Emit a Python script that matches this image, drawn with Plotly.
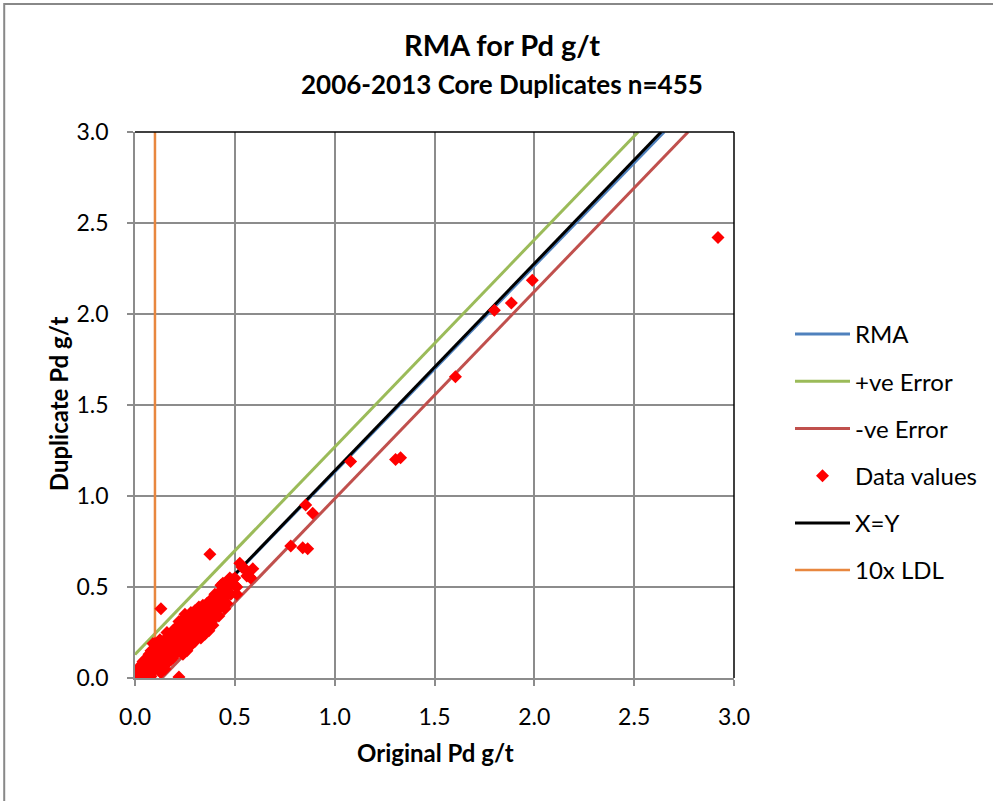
import plotly.graph_objects as go

# ---------------- data ----------------
data_x = [
    0.00, 0.01, 0.01, 0.02, 0.02, 0.03, 0.03, 0.04, 0.04, 0.05, 0.05, 0.06, 0.06, 0.00, 0.01, 0.03, 0.05,
    0.07, 0.07, 0.08, 0.08, 0.09, 0.09, 0.10, 0.10, 0.11, 0.11, 0.12, 0.12, 0.07, 0.09, 0.10, 0.12, 0.08, 0.10, 0.12, 0.09, 0.11, 0.06, 0.13,
    0.09, 0.125, 0.05, 0.035, 0.09, 0.125, 0.07, 0.04, 0.11, 0.15, 0.14, 0.06, 0.08, 0.02,
    0.13, 0.13, 0.14, 0.14, 0.15, 0.15, 0.15, 0.16, 0.16, 0.16, 0.17, 0.17, 0.17, 0.18, 0.18, 0.18, 0.19, 0.19, 0.19, 0.20, 0.20, 0.20, 0.14, 0.16, 0.18, 0.20, 0.17, 0.19,
    0.21, 0.21, 0.21, 0.22, 0.22, 0.22, 0.22, 0.23, 0.23, 0.23, 0.23, 0.24, 0.24, 0.24, 0.24, 0.25, 0.25, 0.25, 0.25, 0.26, 0.26, 0.26, 0.26, 0.27, 0.27, 0.27, 0.28, 0.28, 0.28, 0.28, 0.29, 0.29, 0.29, 0.29, 0.30, 0.30, 0.30, 0.30, 0.24, 0.26, 0.28, 0.30, 0.25,
    0.31, 0.31, 0.31, 0.32, 0.32, 0.32, 0.32, 0.33, 0.33, 0.33, 0.34, 0.34, 0.34, 0.34, 0.35, 0.35, 0.35, 0.36, 0.36, 0.36, 0.37, 0.37, 0.37, 0.38, 0.38, 0.38, 0.39, 0.39, 0.39, 0.40, 0.40, 0.40, 0.33, 0.35, 0.37, 0.39,
    0.41, 0.41, 0.42, 0.42, 0.43, 0.43, 0.44, 0.44, 0.44, 0.45, 0.46, 0.46, 0.47, 0.48, 0.48, 0.49, 0.50, 0.50, 0.42, 0.45,
    0.435, 0.485, 0.475, 0.525, 0.535, 0.565, 0.575, 0.55, 0.59, 0.51, 0.58, 0.56, 0.51,
    0.13, 0.375, 0.22, 0.78, 0.84, 0.865, 0.855, 0.89, 1.08, 1.305, 1.33, 1.605, 1.80, 1.885, 1.99, 2.92,
]
data_y = [
    0.00, 0.01, 0.02, 0.00, 0.03, 0.01, 0.04, 0.02, 0.05, 0.03, 0.07, 0.04, 0.08, 0.02, 0.00, 0.00, 0.01,
    0.05, 0.10, 0.06, 0.12, 0.07, 0.11, 0.08, 0.14, 0.09, 0.16, 0.10, 0.13, 0.02, 0.04, 0.05, 0.06, 0.15, 0.19, 0.20, 0.09, 0.12, 0.06, 0.03,
    0.19, 0.21, 0.10, 0.07, 0.045, 0.035, 0.13, 0.09, 0.17, 0.05, 0.20, 0.11, 0.01, 0.06,
    0.12, 0.16, 0.10, 0.18, 0.11, 0.14, 0.21, 0.13, 0.17, 0.25, 0.12, 0.19, 0.22, 0.14, 0.18, 0.24, 0.15, 0.20, 0.26, 0.13, 0.17, 0.22, 0.07, 0.08, 0.10, 0.27, 0.15, 0.11,
    0.16, 0.20, 0.28, 0.15, 0.19, 0.24, 0.31, 0.14, 0.18, 0.22, 0.27, 0.17, 0.21, 0.25, 0.32, 0.16, 0.20, 0.24, 0.29, 0.19, 0.23, 0.27, 0.33, 0.20, 0.25, 0.30, 0.22, 0.26, 0.31, 0.36, 0.21, 0.24, 0.28, 0.34, 0.23, 0.27, 0.32, 0.37, 0.13, 0.15, 0.18, 0.20, 0.35,
    0.25, 0.29, 0.35, 0.24, 0.28, 0.33, 0.39, 0.26, 0.30, 0.36, 0.25, 0.29, 0.34, 0.40, 0.27, 0.31, 0.37, 0.30, 0.34, 0.41, 0.29, 0.33, 0.38, 0.31, 0.36, 0.43, 0.33, 0.38, 0.44, 0.35, 0.40, 0.46, 0.22, 0.24, 0.26, 0.29,
    0.37, 0.43, 0.39, 0.47, 0.42, 0.51, 0.40, 0.45, 0.52, 0.44, 0.48, 0.41, 0.50, 0.46, 0.53, 0.54, 0.51, 0.55, 0.34, 0.38,
    0.51, 0.52, 0.55, 0.63, 0.61, 0.58, 0.555, 0.60, 0.60, 0.46, 0.55, 0.56, 0.50,
    0.38, 0.68, 0.005, 0.725, 0.715, 0.71, 0.95, 0.905, 1.19, 1.20, 1.21, 1.655, 2.02, 2.06, 2.185, 2.42,
]

rma_x = [0.0, 2.65]
rma_y = [0.0, 3.0]
pos_err_x = [0.0, 2.52]
pos_err_y = [0.13, 3.0]
neg_err_x = [0.135, 2.77]
neg_err_y = [0.0, 3.0]
xy_x = [0.0, 2.635]
xy_y = [0.0, 3.0]
ldl_x = [0.1, 0.1]
ldl_y = [0.0, 3.0]

x_ticks = [0.0, 0.5, 1.0, 1.5, 2.0, 2.5, 3.0]
y_ticks = [0.0, 0.5, 1.0, 1.5, 2.0, 2.5, 3.0]
tick_text = ["0.0", "0.5", "1.0", "1.5", "2.0", "2.5", "3.0"]

FONT = "Lato"
GRID = "#8c8c8c"

fig = go.Figure()

def line_trace(x, y, name, color, width, rank):
    return go.Scatter(x=x, y=y, mode="lines", name=name, legendgroup=name,
                      legendrank=rank,
                      line=dict(color=color, width=width), cliponaxis=True)

fig.add_trace(line_trace(rma_x, rma_y, "RMA", "#4F81BD", 3, 1))
fig.add_trace(line_trace(pos_err_x, pos_err_y, "+ve Error", "#9BBB59", 3, 2))
fig.add_trace(line_trace(neg_err_x, neg_err_y, "-ve Error", "#C0504D", 3, 3))
fig.add_trace(line_trace(xy_x, xy_y, "X=Y", "#000000", 3, 5))
fig.add_trace(line_trace(ldl_x, ldl_y, "10x LDL", "#E8873F", 2.5, 6))
fig.add_trace(go.Scatter(x=data_x, y=data_y, mode="markers", name="Data values",
                         legendgroup="Data values", legendrank=4,
                         marker=dict(symbol="diamond", color="#FF0000", size=10,
                                     line=dict(width=0))))

L, R, T, B = 135, 258, 132, 123
W, H = 993, 801
pw, ph = W - L - R, H - T - B

def px(xp):
    return (xp - L) / pw

def py(yp):
    return (H - B - yp) / ph

fig.update_layout(
    width=W, height=H,
    margin=dict(l=L, r=R, t=T, b=B, pad=0),
    paper_bgcolor="white", plot_bgcolor="white",
    font=dict(family=FONT, color="#000000", size=22),
    showlegend=True,
    legend=dict(x=px(790), y=py(312), xanchor="left", yanchor="top",
                font=dict(family=FONT, size=24, color="#000000"),
                traceorder="grouped", tracegroupgap=13,
                itemwidth=55, bgcolor="rgba(0,0,0,0)"),
    xaxis=dict(range=[0, 3.0], tickvals=x_ticks, ticktext=tick_text,
               showgrid=True, gridcolor=GRID, gridwidth=1.5,
               showline=True, linecolor=GRID, linewidth=1.5,
               ticks="outside", ticklen=6, tickcolor=GRID, tickwidth=1.5,
               ticklabelstandoff=12, zeroline=False,
               tickfont=dict(family=FONT, size=23)),
    yaxis=dict(range=[0, 3.0], tickvals=y_ticks, ticktext=tick_text,
               showgrid=True, gridcolor=GRID, gridwidth=1.5,
               showline=True, linecolor=GRID, linewidth=1.5,
               ticks="outside", ticklen=6, tickcolor=GRID, tickwidth=1.5,
               ticklabelstandoff=14, zeroline=False,
               tickfont=dict(family=FONT, size=23)),
    shapes=[
        dict(type="line", xref="paper", yref="paper", x0=0, x1=1, y0=1, y1=1,
             line=dict(color="#000000", width=1.5)),
        dict(type="line", xref="paper", yref="paper", x0=1, x1=1, y0=0, y1=1,
             line=dict(color="#000000", width=1.5)),
        dict(type="rect", xref="paper", yref="paper",
             x0=px(4), x1=px(1000), y0=py(4), y1=py(810),
             line=dict(color="#888888", width=2), fillcolor="rgba(0,0,0,0)"),
    ],
    annotations=[
        dict(text="<b>RMA for Pd g/t</b>", xref="paper", yref="paper",
             x=px(503), y=py(45), showarrow=False, xanchor="center", yanchor="middle",
             font=dict(family=FONT, size=29)),
        dict(text="<b>2006-2013 Core Duplicates n=455</b>", xref="paper", yref="paper",
             x=px(503), y=py(84), showarrow=False, xanchor="center", yanchor="middle",
             font=dict(family=FONT, size=26)),
        dict(text="<b>Original Pd g/t</b>", xref="paper", yref="paper",
             x=px(436), y=py(752), showarrow=False, xanchor="center", yanchor="middle",
             font=dict(family=FONT, size=24)),
        dict(text="<b>Duplicate Pd g/t</b>", xref="paper", yref="paper",
             x=px(58), y=py(404), showarrow=False, xanchor="center", yanchor="middle",
             textangle=-90, font=dict(family=FONT, size=24)),
    ],
)

fig.write_html("out.html")
